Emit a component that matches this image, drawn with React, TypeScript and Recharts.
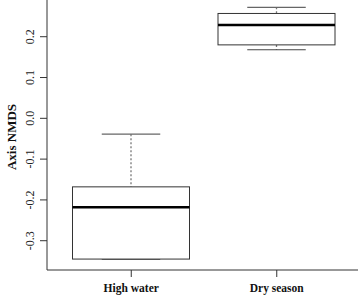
import { Bar, BarChart, XAxis, YAxis } from "recharts";

// five-number summaries
const groups = ["High water", "Dry season"];
const lowWhisker = [-0.345, 0.168];
const lowerQuartile = [-0.345, 0.18];
const medians = [-0.218, 0.229];
const upperQuartile = [-0.168, 0.257];
const highWhisker = [-0.039, 0.272];
const yTicks = [-0.3, -0.2, -0.1, 0, 0.1, 0.2];

const data = groups.map((group, i) => ({
	group,
	range: [lowWhisker[i], highWhisker[i]],
	min: lowWhisker[i],
	q1: lowerQuartile[i],
	median: medians[i],
	q3: upperQuartile[i],
	max: highWhisker[i],
}));

const FONT = "'Liberation Serif', 'Times New Roman', serif";

function BoxShape(props: any) {
	const { x, y, width, height, payload } = props;
	const top = Math.min(y, y + height);
	const bottom = Math.max(y, y + height);
	const span = payload.max - payload.min;
	const toPx = (v: number) =>
		span === 0 ? top : top + ((payload.max - v) / span) * (bottom - top);
	const cx = x + width / 2;
	const capHalf = width / 4;
	const yMax = toPx(payload.max);
	const yQ3 = toPx(payload.q3);
	const yMed = toPx(payload.median);
	const yQ1 = toPx(payload.q1);
	const yMin = toPx(payload.min);
	return (
		<g>
			<line x1={cx} x2={cx} y1={yMax} y2={yQ3} stroke="#777" strokeWidth={1.3} strokeDasharray="2 2" />
			<line x1={cx} x2={cx} y1={yQ1} y2={yMin} stroke="#777" strokeWidth={1.3} strokeDasharray="2 2" />
			<line x1={cx - capHalf} x2={cx + capHalf} y1={yMax} y2={yMax} stroke="#666" strokeWidth={1.2} />
			<line x1={cx - capHalf} x2={cx + capHalf} y1={yMin} y2={yMin} stroke="#444" strokeWidth={1.2} />
			<rect x={x} y={yQ3} width={width} height={yQ1 - yQ3} fill="#fff" stroke="#333" strokeWidth={1} />
			<line x1={x} x2={x + width} y1={yMed} y2={yMed} stroke="#000" strokeWidth={2.5} />
		</g>
	);
}

function YTick(props: any) {
	const { y, payload } = props;
	return (
		<text
			x={34}
			y={y}
			transform={`rotate(-90 34 ${y})`}
			textAnchor="middle"
			fontFamily={FONT}
			fontSize={12}
			fill="#222"
		>
			{payload.value.toFixed(1)}
		</text>
	);
}

function XTick(props: any) {
	const { x, y, payload } = props;
	return (
		<text
			x={x}
			y={y + 13}
			textAnchor="middle"
			fontFamily={FONT}
			fontWeight="bold"
			fontSize={11.5}
			fill="#111"
		>
			{payload.value}
		</text>
	);
}

function AxisTitle(props: any) {
	const { viewBox } = props;
	const cy = viewBox.y + viewBox.height / 2 + 2;
	return (
		<text
			x={16}
			y={cy}
			transform={`rotate(-90 16 ${cy})`}
			textAnchor="middle"
			fontFamily={FONT}
			fontWeight="bold"
			fontSize={13}
			fill="#111"
		>
			Axis NMDS
		</text>
	);
}

export default function App() {
	return (
		<div style={{ position: "fixed", left: 0, top: 0, width: 358, height: 297, background: "#fff" }}>
			<BarChart
				width={358}
				height={297}
				data={data}
				margin={{ top: 0, right: 0, bottom: 0, left: 0 }}
				barSize={117}
			>
				<XAxis
					dataKey="group"
					height={27}
					padding={{ left: 11.5, right: 8.5 }}
					stroke="#333"
					tickSize={7}
					tickLine={{ stroke: "#333" }}
					tick={<XTick />}
					interval={0}
				/>
				<YAxis
					width={47}
					type="number"
					domain={[-0.3718, 0.29]}
					allowDataOverflow
					ticks={yTicks}
					stroke="#333"
					tickSize={7}
					tick={<YTick />}
					label={{ content: <AxisTitle /> }}
				/>
				<Bar
					dataKey="range"
					shape={<BoxShape />}
					isAnimationActive={false}
				/>
			</BarChart>
		</div>
	);
}
